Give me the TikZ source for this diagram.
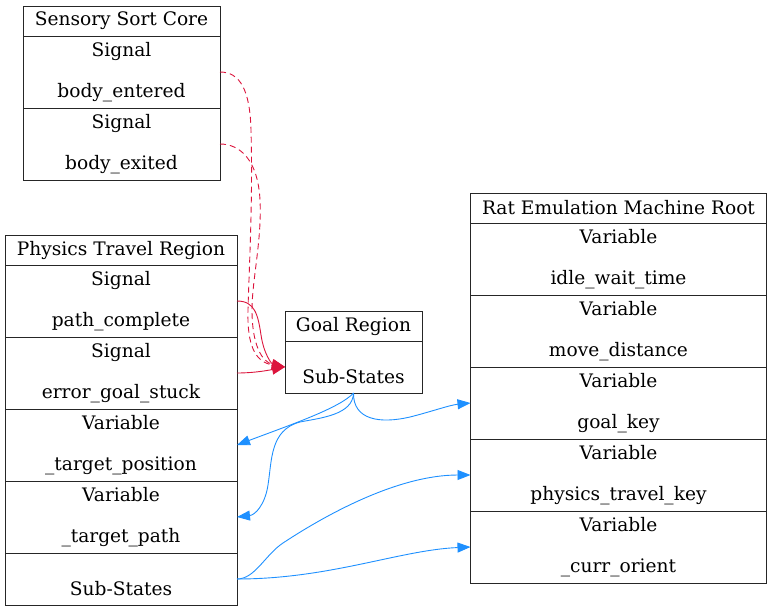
\documentclass[tikz,border=0pt]{standalone}
\usepackage{fontspec}
\setmainfont{DejaVu Serif}
\usetikzlibrary{arrows.meta}
\definecolor{edgered}{HTML}{DC143C}
\definecolor{edgeblue}{HTML}{1E90FF}
\tikzset{
  cell/.style={draw=black!85, line width=0.9pt, inner sep=0pt, outer sep=0pt, align=center,
    font=\fontsize{18.6}{20.5}\selectfont},
  redge/.style={draw=edgered, line width=0.9pt, -{Triangle[length=13pt,width=10pt]}},
  bedge/.style={draw=edgeblue, line width=0.9pt, -{Triangle[length=13pt,width=10pt]}},
}
\newcommand{\rowtxt}[2]{#1\\[20.5pt]#2}
\newcommand{\subtxt}{\mbox{}\\[12pt]Sub-States}
\begin{document}
\begin{tikzpicture}[x=1pt,y=-1pt]
\useasboundingbox (0,0) rectangle (772,611);
% Sensory Sort Core
\node[cell, minimum width=197, minimum height=30] (sh) at (121.5,21) {Sensory Sort Core};
\node[cell, minimum width=197, minimum height=72] (s1) at (121.5,72) {\rowtxt{Signal}{body\_entered}};
\node[cell, minimum width=197, minimum height=72] (s2) at (121.5,144) {\rowtxt{Signal}{body\_exited}};
% Physics Travel Region
\node[cell, minimum width=232, minimum height=30] (ph) at (121,250) {Physics Travel Region};
\node[cell, minimum width=232, minimum height=72] (p1) at (121,301) {\rowtxt{Signal}{path\_complete}};
\node[cell, minimum width=232, minimum height=72] (p2) at (121,373) {\rowtxt{Signal}{error\_goal\_stuck}};
\node[cell, minimum width=232, minimum height=72] (p3) at (121,445) {\rowtxt{Variable}{\_target\_position}};
\node[cell, minimum width=232, minimum height=72] (p4) at (121,517) {\rowtxt{Variable}{\_target\_path}};
\node[cell, minimum width=232, minimum height=52] (p5) at (121,579) {\subtxt};
% Goal Region
\node[cell, minimum width=137, minimum height=30] (gh) at (353.5,326) {Goal Region};
\node[cell, minimum width=137, minimum height=52] (gb) at (353.5,367) {\subtxt};
% Rat Emulation Machine Root
\node[cell, minimum width=296, minimum height=30] (rh) at (618.5,208) {Rat Emulation Machine Root};
\node[cell, minimum width=296, minimum height=72] (r1) at (618.5,259) {\rowtxt{Variable}{idle\_wait\_time}};
\node[cell, minimum width=296, minimum height=72] (r2) at (618.5,331) {\rowtxt{Variable}{move\_distance}};
\node[cell, minimum width=296, minimum height=72] (r3) at (618.5,403) {\rowtxt{Variable}{goal\_key}};
\node[cell, minimum width=296, minimum height=72] (r4) at (618.5,475) {\rowtxt{Variable}{physics\_travel\_key}};
\node[cell, minimum width=296, minimum height=72] (r5) at (618.5,547) {\rowtxt{Variable}{\_curr\_orient}};
% red edges
\draw[redge, dashed, dash pattern=on 6pt off 4pt] (s1.east) .. controls (240,72) and (250,90) .. (251,130)
  .. controls (253,200) and (249,270) .. (248,310) .. controls (247,345) and (255,362) .. (gb.west);
\draw[redge, dashed, dash pattern=on 6pt off 4pt] (s2.east) .. controls (240,144) and (258,160) .. (260,200)
  .. controls (262,240) and (252,280) .. (252,310) .. controls (252,345) and (262,362) .. (gb.west);
\draw[redge] (p1.east) .. controls (255,301) and (258,315) .. (261,335) .. controls (264,355) and (272,364) .. (gb.west);
\draw[redge] (p2.east) .. controls (255,373) and (270,370) .. (gb.west);
% blue edges
\draw[bedge] (gb.south) .. controls (340,408) and (290,425) .. (p3.east);
\draw[bedge] (gb.south) .. controls (353,415) and (320,418) .. (300,422) .. controls (270,430) and (272,460) .. (268,485) .. controls (265,505) and (255,515) .. (p4.east);
\draw[bedge] (gb.south) .. controls (353,420) and (380,424) .. (410,417) .. controls (430,412) and (450,405) .. (r3.west);
\draw[bedge] (p5.east) .. controls (255,579) and (265,555) .. (283,543) .. controls (330,512) and (400,475) .. (r4.west);
\draw[bedge] (p5.east) .. controls (330,579) and (400,550) .. (r5.west);
\end{tikzpicture}
\end{document}
